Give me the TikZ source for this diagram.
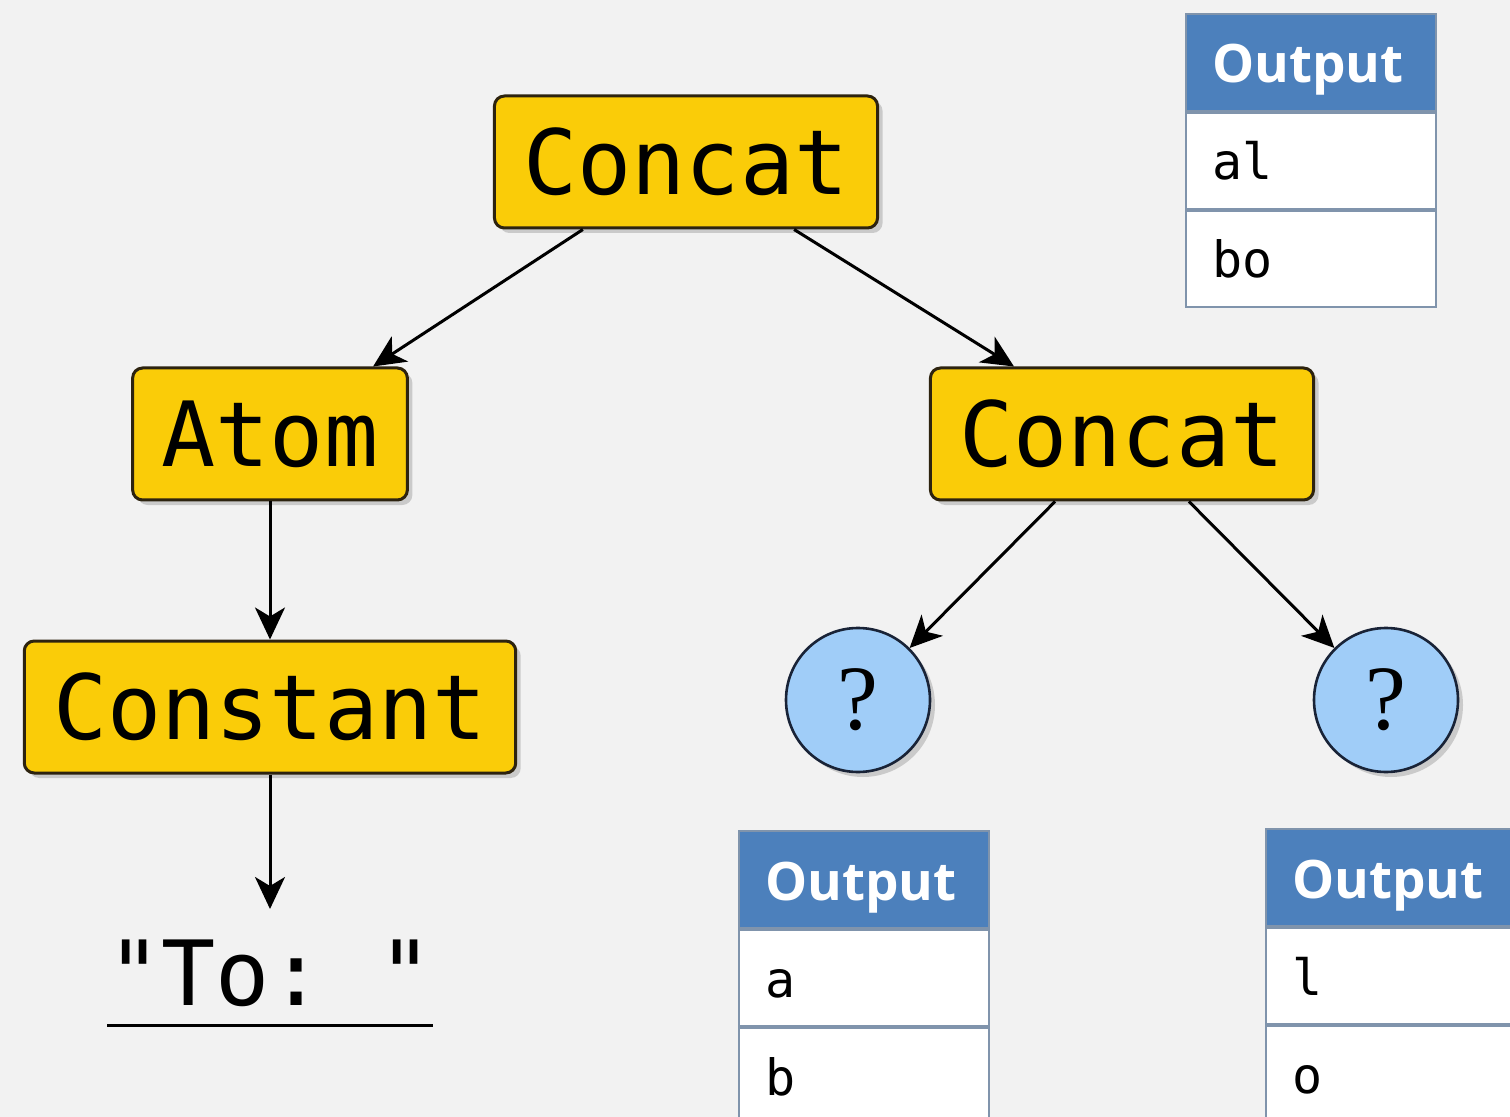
\documentclass[tikz,border=0pt]{standalone}
\usepackage{fontspec}
\setmonofont{DejaVu Sans Mono}
\newfontfamily\headfont{Open Sans}
\newfontfamily\holefont{Liberation Serif}
\usetikzlibrary{arrows.meta,shadows}
\definecolor{pagebg}{RGB}{242,242,242}
\definecolor{opYellow}{RGB}{250,204,8}
\definecolor{opEdge}{RGB}{45,35,15}
\definecolor{holeBlue}{RGB}{160,205,248}
\definecolor{holeEdge}{RGB}{25,35,55}
\definecolor{headBlue}{RGB}{76,128,188}
\definecolor{cellLine}{RGB}{128,148,172}

\begin{document}
\begin{tikzpicture}[x=0.5pt,y=-0.5pt,
  op/.style={draw=opEdge,line width=1.5pt,fill=opYellow,rounded corners=5pt,
    minimum height=66pt,inner xsep=14.5pt,font=\ttfamily\fontsize{45}{50}\selectfont,
    drop shadow={shadow xshift=2.5pt,shadow yshift=-2.5pt,opacity=0.35}},
  hole/.style={circle,draw=holeEdge,line width=1.3pt,fill=holeBlue,minimum size=72pt,
    inner sep=0pt,font=\holefont\fontsize{46}{50}\selectfont,
    drop shadow={shadow xshift=2.5pt,shadow yshift=-2.5pt,opacity=0.35}},
  link/.style={-{Stealth[length=16pt,width=15pt,inset=4.5pt]},line width=1.5pt},
  outhead/.style={draw=cellLine,line width=1pt,fill=headBlue,text=white,anchor=north west,
    minimum height=48.5pt,text width=99pt,inner xsep=13pt,align=left,
    text height=23pt,text depth=2.5pt,font=\headfont\bfseries\fontsize{26.5}{30}\selectfont},
  outcell/.style={draw=cellLine,line width=1pt,fill=white,anchor=north west,
    minimum height=48pt,text width=99pt,inner xsep=13pt,align=left,
    text height=19pt,text depth=0pt,font=\ttfamily\fontsize{25}{30}\selectfont}]
  \useasboundingbox (0,0) rectangle (1510,1117);
  \fill[pagebg] (0,0) rectangle (1510,1117);
  \clip (0,0) rectangle (1510,1117);

  % program tree
  \node[op] (root) at (686,162) {Concat};
  \node[op] (atom) at (270,434) {Atom};
  \node[op] (const) at (270,707) {Constant};
  \node[op] (cat) at (1122,434) {Concat};
  \node[hole] (holeL) at (858,700) {?};
  \node[hole] (holeR) at (1386,700) {?};
  \node[font=\ttfamily\fontsize{45}{50}\selectfont,inner xsep=0pt,inner ysep=15pt,anchor=base]
    (lit) at (270,1005) {\char34 To:\ \char34};
  \draw[line width=1.5pt] ([yshift=-10pt]lit.base west) -- ([yshift=-10pt]lit.base east);

  \draw[link] (root) -- (atom);
  \draw[link] (root) -- (cat);
  \draw[link] (atom) -- (const);
  \draw[link] (const) -- (lit);
  \draw[link] (cat) -- (holeL);
  \draw[link] (cat) -- (holeR);

  % output tables
  \node[outhead] (outA-h) at (1185,13) {Output};
  \node[outcell] (outA-1) at (outA-h.south west) {al};
  \node[outcell] (outA-2) at (outA-1.south west) {bo};

  \node[outhead] (outB-h) at (738,830) {Output};
  \node[outcell] (outB-1) at (outB-h.south west) {a};
  \node[outcell] (outB-2) at (outB-1.south west) {b};

  \node[outhead] (outC-h) at (1265,828) {Output};
  \node[outcell] (outC-1) at (outC-h.south west) {l};
  \node[outcell] (outC-2) at (outC-1.south west) {o};
\end{tikzpicture}
\end{document}
